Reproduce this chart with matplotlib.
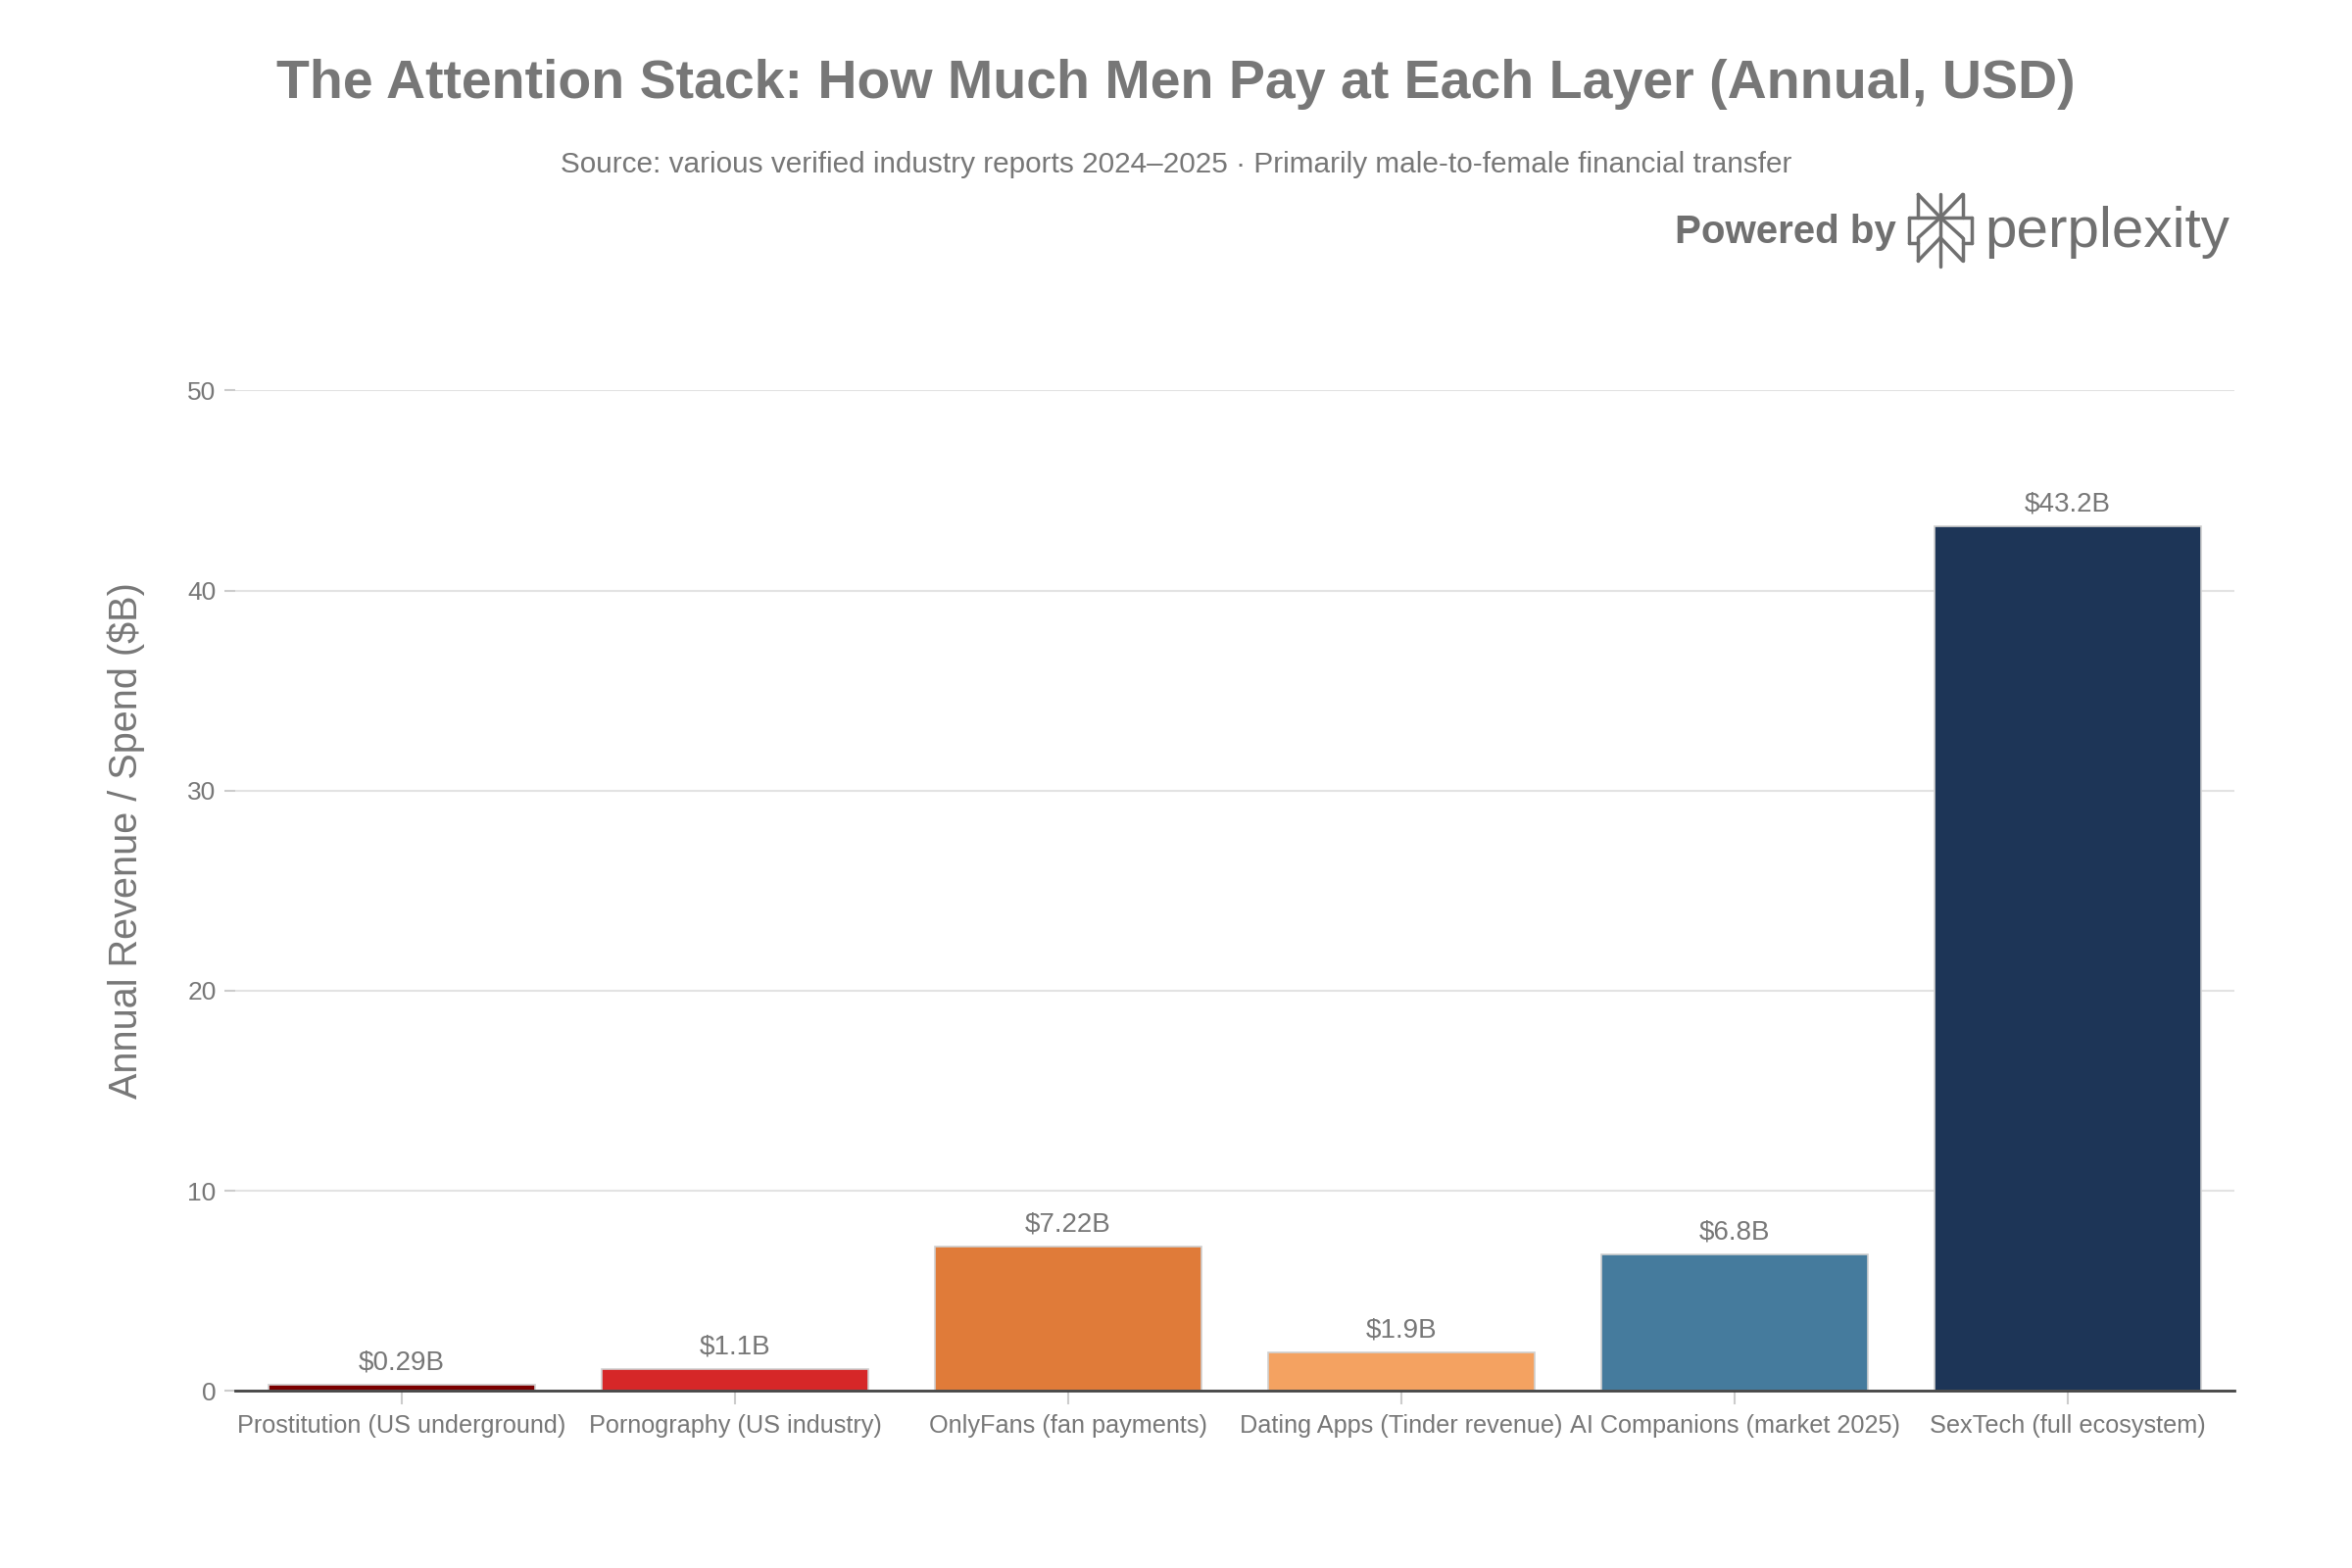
import matplotlib.pyplot as plt
from matplotlib.lines import Line2D

# ── Data ─────────────────────────────────────────────────────────────────────
categories = [
    'Prostitution (US underground)',
    'Pornography (US industry)',
    'OnlyFans (fan payments)',
    'Dating Apps (Tinder revenue)',
    'AI Companions (market 2025)',
    'SexTech (full ecosystem)',
]
values = [0.29, 1.1, 7.22, 1.9, 6.8, 43.2]
value_labels = ['$0.29B', '$1.1B', '$7.22B', '$1.9B', '$6.8B', '$43.2B']
bar_colors = ['#7B0000', '#D62728', '#E07B39', '#F4A261', '#457B9D', '#1D3557']
y_ticks = [0, 10, 20, 30, 40, 50]

GRAY = '#777777'
plt.rcParams['font.family'] = ['Liberation Sans', 'DejaVu Sans']

fig = plt.figure(figsize=(24, 16), dpi=100)
ax = fig.add_axes([0.100, 0.113, 0.850, 0.638])

x = range(len(categories))
bars = ax.bar(x, values, width=0.8, color=bar_colors,
              edgecolor='#d0d0d0', linewidth=1.2, zorder=3)

# value labels above bars
for bar, lbl in zip(bars, value_labels):
    ax.annotate(lbl, (bar.get_x() + bar.get_width() / 2, bar.get_height()),
                xytext=(0, 7), textcoords='offset points',
                ha='center', va='bottom', fontsize=20, color=GRAY)

ax.set_xlim(-0.5, len(categories) - 0.5)
ax.set_ylim(0, 50)
ax.set_yticks(y_ticks)
ax.set_xticks(list(x))
ax.set_xticklabels(categories, fontsize=18.2, color=GRAY)
ax.tick_params(axis='y', labelsize=19, labelcolor=GRAY, color='#cccccc',
               length=8, width=1.5, pad=6)
ax.tick_params(axis='x', color='#cccccc', length=10, width=1.5, pad=7)

ax.grid(axis='y', color='#e3e3e3', linewidth=1.5, zorder=0)
for side in ['top', 'right', 'left']:
    ax.spines[side].set_visible(False)
ax.spines['bottom'].set_color('#444444')
ax.spines['bottom'].set_linewidth(2)
ax.spines['bottom'].set_zorder(4)

ax.set_ylabel('Annual Revenue / Spend ($B)', fontsize=28.5, color=GRAY)
ax.yaxis.set_label_coords(-0.045, 0.55)

# ── Titles ───────────────────────────────────────────────────────────────────
fig.text(0.5, 0.946, 'The Attention Stack: How Much Men Pay at Each Layer (Annual, USD)',
         ha='center', va='center', fontsize=40, fontweight='bold', color=GRAY)
fig.text(0.5, 0.895,
         'Source: various verified industry reports 2024\u20132025 \u00b7 Primarily male-to-female financial transfer',
         ha='center', va='center', fontsize=21.4, color=GRAY)

# ── Powered by perplexity ────────────────────────────────────────────────────
fig.text(0.806, 0.852, 'Powered by', ha='right', va='center',
         fontsize=29, fontweight='bold', color='#707070')
fig.text(0.844, 0.852, 'perplexity', ha='left', va='center',
         fontsize=42, color='#707070')

# icon drawn from line segments in a local unit box
ix0, iy0, iw, ih = 0.8115, 0.830, 0.027, 0.046
segs = [
    [(0.5, 0.0), (0.5, 1.0)],
    [(0.15, 1.0), (0.15, 0.68)], [(0.85, 1.0), (0.85, 0.68)],
    [(0.15, 1.0), (0.5, 0.68)], [(0.85, 1.0), (0.5, 0.68)],
    [(0.0, 0.68), (1.0, 0.68)],
    [(0.0, 0.68), (0.0, 0.32)], [(1.0, 0.68), (1.0, 0.32)],
    [(0.0, 0.32), (0.15, 0.32)], [(1.0, 0.32), (0.85, 0.32)],
    [(0.5, 0.68), (0.15, 0.40)], [(0.5, 0.68), (0.85, 0.40)],
    [(0.15, 0.40), (0.15, 0.08)], [(0.85, 0.40), (0.85, 0.08)],
    [(0.15, 0.08), (0.5, 0.40)], [(0.85, 0.08), (0.5, 0.40)],
]
for (ax0, ay0), (ax1, ay1) in segs:
    fig.add_artist(Line2D([ix0 + ax0 * iw, ix0 + ax1 * iw],
                          [iy0 + ay0 * ih, iy0 + ay1 * ih],
                          transform=fig.transFigure, color='#707070',
                          linewidth=2.5, solid_capstyle='round'))

fig.savefig('out.png', dpi=100, facecolor='white')
